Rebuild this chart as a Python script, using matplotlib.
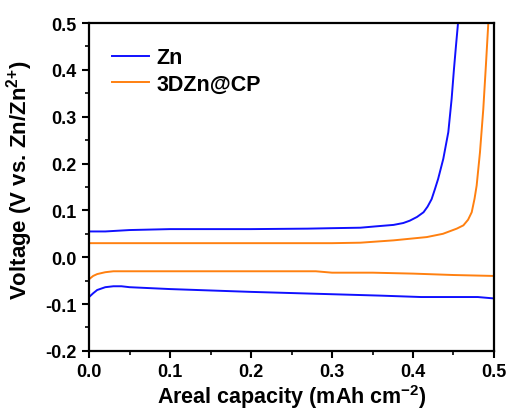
import matplotlib
matplotlib.use("Agg")
import matplotlib.pyplot as plt
from matplotlib.ticker import MultipleLocator, FormatStrFormatter

plt.rcParams['font.family'] = ['Liberation Sans', 'DejaVu Sans']
plt.rcParams['font.weight'] = 'bold'
plt.rcParams['mathtext.fontset'] = 'custom'
plt.rcParams['mathtext.rm'] = 'Liberation Sans:bold'
plt.rcParams['mathtext.default'] = 'rm'

# Zn charge (stripping) curve
zn_charge_x = [0.0, 0.02, 0.05, 0.1, 0.2, 0.27, 0.3, 0.335, 0.355, 0.376, 0.388, 0.396, 0.405, 0.413, 0.418, 0.423, 0.427, 0.431, 0.4374, 0.4436, 0.4477, 0.4505, 0.453, 0.4556]
zn_charge_y = [0.055, 0.055, 0.058, 0.06, 0.06, 0.061, 0.062, 0.063, 0.066, 0.069, 0.073, 0.078, 0.086, 0.096, 0.108, 0.124, 0.145, 0.167, 0.21, 0.267, 0.338, 0.4, 0.45, 0.5]
# Zn discharge (plating) curve
zn_dis_x = [0.0, 0.005, 0.01, 0.02, 0.03, 0.04, 0.05, 0.1, 0.15, 0.2, 0.26, 0.3, 0.36, 0.41, 0.48, 0.5]
zn_dis_y = [-0.085, -0.077, -0.07, -0.064, -0.062, -0.062, -0.064, -0.068, -0.071, -0.074, -0.077, -0.079, -0.082, -0.085, -0.085, -0.088]
# 3DZn@CP charge curve
cp_charge_x = [0.0, 0.1, 0.2, 0.3, 0.335, 0.376, 0.417, 0.437, 0.454, 0.4622, 0.468, 0.4725, 0.476, 0.4786, 0.4827, 0.4868, 0.490, 0.493]
cp_charge_y = [0.03, 0.03, 0.03, 0.03, 0.031, 0.036, 0.043, 0.050, 0.061, 0.068, 0.08, 0.096, 0.125, 0.153, 0.224, 0.3165, 0.409, 0.5]
# 3DZn@CP discharge curve
cp_dis_x = [0.0, 0.005, 0.01, 0.02, 0.03, 0.1, 0.2, 0.28, 0.3, 0.35, 0.4, 0.45, 0.5]
cp_dis_y = [-0.047, -0.04, -0.036, -0.032, -0.03, -0.03, -0.03, -0.03, -0.033, -0.033, -0.035, -0.038, -0.04]

blue = '#1010FF'
orange = '#FF8010'

fig = plt.figure(figsize=(5.09, 4.14), dpi=100)
ax = fig.add_axes([0.175, 0.150, 0.7955, 0.792])

ax.plot(zn_charge_x, zn_charge_y, color=blue, lw=1.4, label='Zn')
ax.plot(cp_charge_x, cp_charge_y, color=orange, lw=1.4, label='3DZn@CP')
ax.plot(zn_dis_x, zn_dis_y, color=blue, lw=1.4)
ax.plot(cp_dis_x, cp_dis_y, color=orange, lw=1.4)

ax.set_xlim(0, 0.5)
ax.set_ylim(-0.2, 0.5)
ax.xaxis.set_major_locator(MultipleLocator(0.1))
ax.xaxis.set_minor_locator(MultipleLocator(0.05))
ax.yaxis.set_major_locator(MultipleLocator(0.1))
ax.yaxis.set_minor_locator(MultipleLocator(0.05))
ax.xaxis.set_major_formatter(FormatStrFormatter('%.1f'))
ax.yaxis.set_major_formatter(FormatStrFormatter('%.1f'))

ax.tick_params(which='major', direction='out', length=5, width=1.5, labelsize=13, top=False, right=False, pad=4)
ax.tick_params(which='minor', direction='out', length=3, width=1.2, top=False, right=False)
for s in ax.spines.values():
    s.set_linewidth(1.6)

ax.set_xlabel('Areal capacity (mAh cm$^{-2}$)', fontsize=15.5, fontweight='bold', labelpad=1)
ax.set_ylabel('Voltage (V vs. Zn/Zn$^{2{+}}$)', fontsize=16, fontweight='bold')
ax.yaxis.set_label_coords(-0.133, 0.524)

leg = ax.legend(loc='upper left', bbox_to_anchor=(0.01, 0.985), frameon=False,
                prop={'weight': 'bold', 'size': 15.5}, handlelength=1.7,
                handletextpad=0.35, labelspacing=0.25)

fig.savefig('out.png', dpi=100)
